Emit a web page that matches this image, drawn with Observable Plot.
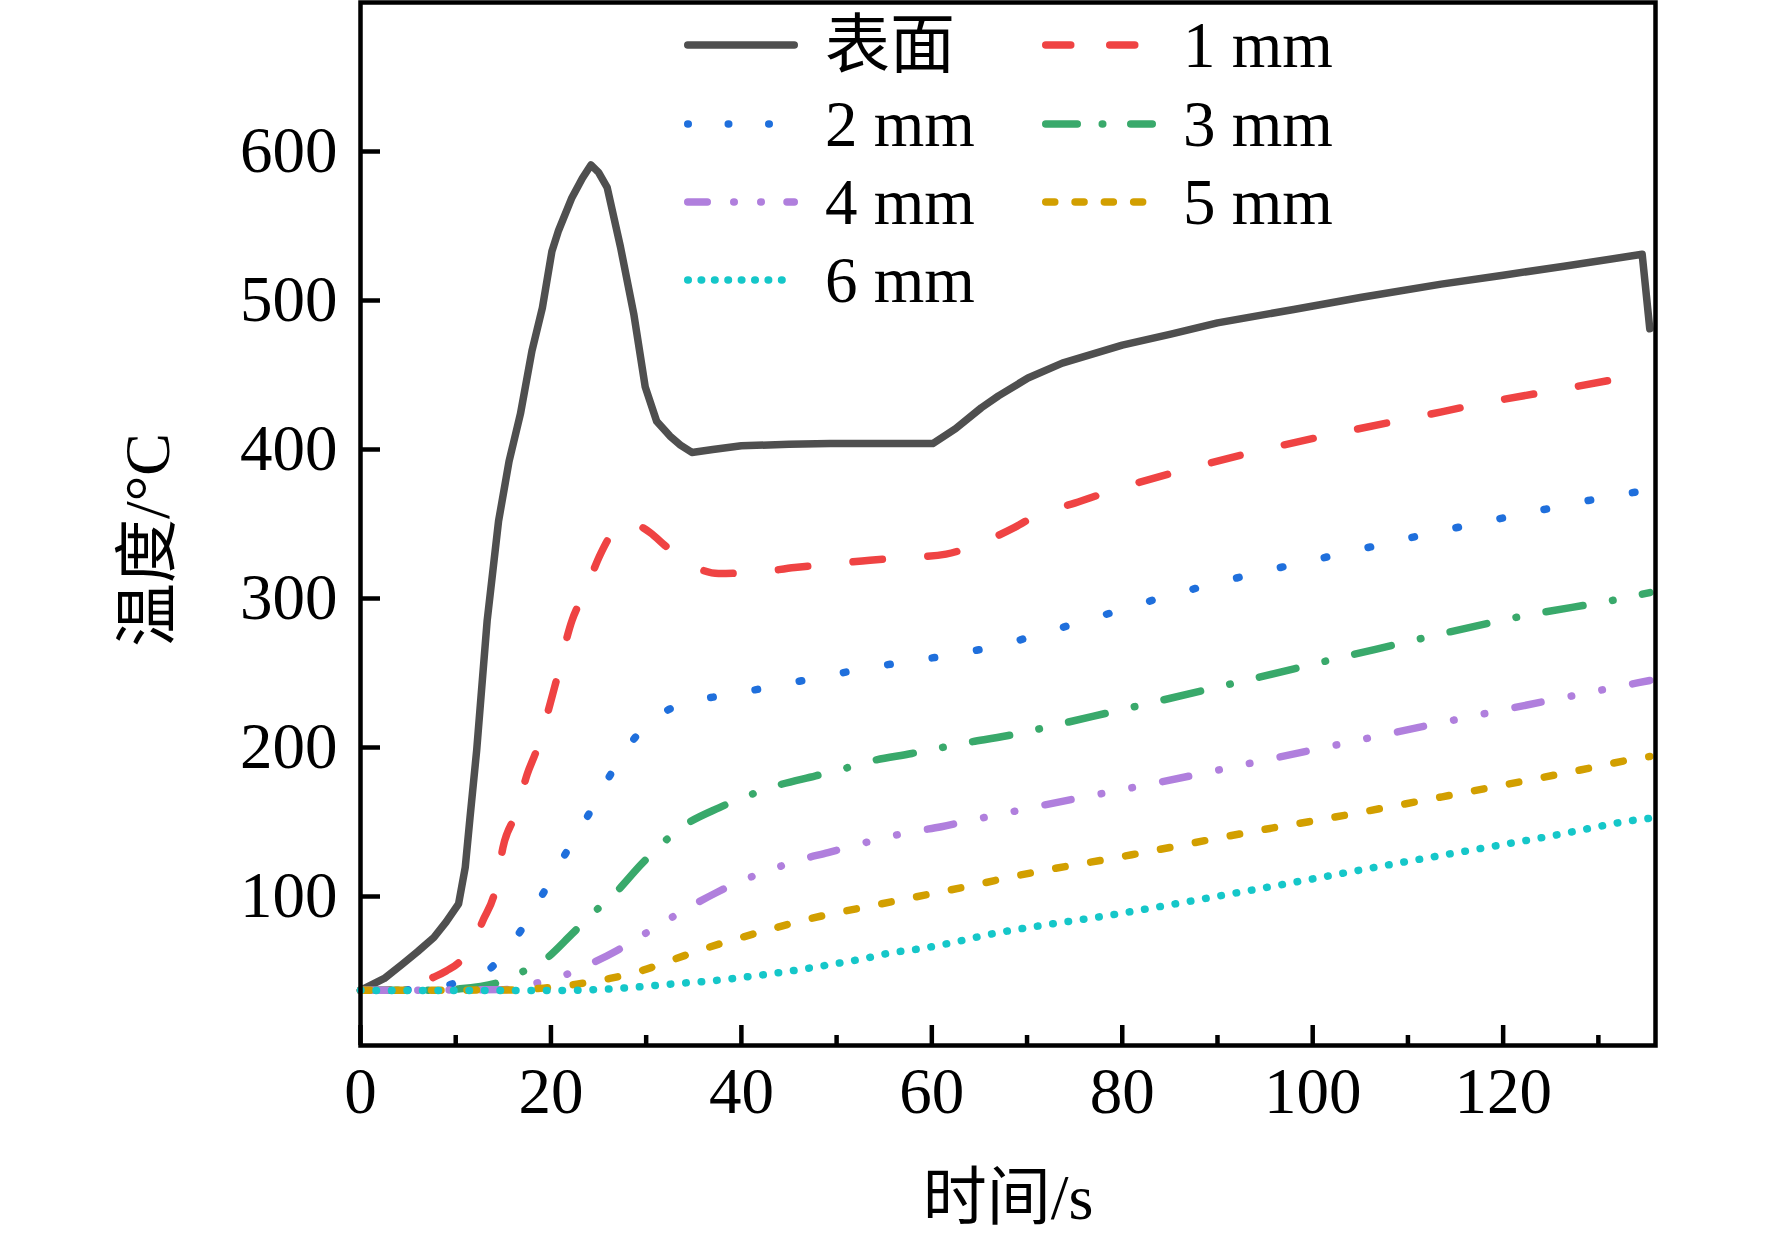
<!DOCTYPE html>
<html>
<head>
<meta charset="utf-8">
<script src="https://cdn.jsdelivr.net/npm/d3@7"></script>
<script src="https://cdn.jsdelivr.net/npm/@observablehq/plot@0.6"></script>
<style>
html, body { margin: 0; padding: 0; background: #fff; }
#chart { width: 1772px; height: 1239px; }
</style>
</head>
<body>
<div id="chart"></div>
<script>
// ---------- data (time in s, temperature in °C) ----------
const seriesNames = ["表面", "1 mm", "2 mm", "3 mm", "4 mm", "5 mm", "6 mm"];

const tSurface = [0, 2.5, 4.4, 6, 7.7, 9, 10.3, 11, 11.5, 12.2, 13.3, 14.5, 15.6, 16.8, 18, 19.1, 20.1, 20.8, 22.2, 23.3, 24.2, 25, 25.9, 27.3, 28.7, 29.9, 31.1, 32.5, 33.6, 34.8, 37, 40, 45, 49.3, 55, 60.1, 62.5, 65.2, 67, 70.1, 73.7, 80, 85.1, 90, 98, 105, 113.5, 120, 126.4, 134.6, 135.4];
const vSurface = [37, 45, 54.6, 63, 72.5, 83, 95, 119.5, 153, 198, 285, 352, 392, 424, 466, 495, 533, 547, 569, 582, 591, 586, 576, 536, 491, 442, 419, 409, 403, 398, 400, 402.5, 403.5, 404, 404, 404, 414, 428, 436, 448, 458, 470, 477.4, 485, 494, 502, 511, 517, 523, 531, 481];

const t1mm = [0, 4, 6, 7.25, 9, 10.5, 12, 12.85, 14.26, 14.96, 16.37, 17.5, 18.47, 20.3, 22.2, 23.6, 25.2, 26.9, 28, 29.2, 30.4, 31.9, 33.4, 35.5, 37.6, 41.4, 45.6, 49.3, 53.5, 57.3, 61.5, 64.8, 68.7, 71.2, 75, 79, 86.8, 94.7, 102.8, 110.7, 118.5, 126.4, 134, 135.4];
const v1mm = [37, 37.5, 40, 44.5, 50, 56.8, 72, 83.7, 107.2, 132.9, 156.4, 182, 197.8, 238.5, 285, 305, 329.8, 347.7, 351, 349, 344.3, 336, 327.5, 320, 316.8, 317.5, 320.8, 323, 325.7, 327.5, 329.8, 336.5, 347.7, 356.6, 364, 372.6, 386.8, 399.7, 411.2, 421.5, 431.8, 440.8, 449.8, 451.5];

const t2mm = [0, 6, 8, 9.96, 13.56, 16.7, 19.3, 21.6, 23.9, 26.3, 28.9, 33, 37.8, 42.5, 47.2, 52.1, 56.7, 61.4, 66.1, 74.8, 84.2, 93.5, 103.1, 112.4, 122, 131.5, 135.4];
const v2mm = [37, 37.5, 39, 41.9, 51.3, 75.8, 103.4, 129.5, 154.4, 182.3, 207.2, 227.5, 234.7, 239.9, 245.9, 251.9, 257, 261.5, 267.1, 282.6, 300.7, 316.1, 330.2, 343.8, 356.7, 368.8, 373];

const t3mm = [0, 8, 10.05, 14.5, 16.6, 19.2, 22.2, 24.3, 26.65, 29.5, 31.3, 33.7, 37.7, 40.6, 43.3, 47.8, 50.6, 53.4, 57.9, 60.5, 63.2, 67.9, 76.9, 91.5, 106.6, 121.7, 134, 135.4];
const v3mm = [37, 37, 37.8, 42.3, 48.3, 56.8, 74.8, 88.2, 101.6, 121.7, 133.2, 146.3, 159.7, 167.4, 173.6, 181, 185.5, 190.6, 196, 199.3, 202.7, 207.9, 220.9, 242.8, 265.9, 287.8, 302, 304];

const t4mm = [0, 15, 18, 21.5, 24.1, 26.9, 29.5, 32.1, 34.8, 37.4, 40, 43, 45.8, 49.1, 51.7, 54.7, 57.8, 61, 63.8, 66.9, 71.1, 83.3, 99.6, 114.8, 131.6, 135.4];
const v4mm = [37, 37.5, 41.2, 47.4, 54.6, 63.6, 73.6, 83.7, 93.8, 102.7, 110.5, 117.7, 124, 129.5, 134, 138.9, 143.4, 146.8, 150.8, 154.8, 160.5, 175.9, 197.8, 218.4, 240.2, 245];

const t5mm = [0, 16, 19.2, 22.7, 26.2, 29.7, 33, 36.2, 40, 43.5, 47, 50.5, 54.2, 58, 61.5, 65.2, 68.1, 81, 95.7, 99.6, 113.6, 128.1, 134.8, 135.4];
const v5mm = [37, 37.3, 38.5, 41.2, 45, 50.6, 58, 65.1, 72.5, 78.8, 84.8, 89.7, 94.4, 99.3, 103.8, 108.7, 112.8, 128, 145.9, 150.2, 166.9, 184.9, 193.4, 194];

const t6mm = [0, 19.4, 24.3, 27.6, 30.6, 33.9, 36.9, 40, 43.3, 46.5, 49.6, 52.6, 55.9, 58.9, 62.2, 65.2, 79.4, 93.6, 109.3, 125.1, 134.6, 135.4];
const v6mm = [37, 36.9, 37.4, 38.5, 40.1, 41.9, 43.4, 45.6, 48.3, 51.3, 54.6, 58, 62.4, 65.1, 69.1, 73.4, 88.2, 104.3, 122.8, 140.7, 151.9, 152.5];

const xTicks = [0, 20, 40, 60, 80, 100, 120];
const xMinorTicks = [10, 30, 50, 70, 90, 110, 130];
const yTicks = [100, 200, 300, 400, 500, 600];
const xLabel = "时间/s";
const yLabel = "温度/°C";

// ---------- styles (kept apart from the data) ----------
const seriesData = [
  [tSurface, vSurface], [t1mm, v1mm], [t2mm, v2mm], [t3mm, v3mm],
  [t4mm, v4mm], [t5mm, v5mm], [t6mm, v6mm]
];
const LW = 7.5;
const styles = [
  { color: "#4f4f4f", dash: null, legendDash: null, curve: "linear" },
  { color: "#ef4343", dash: "29.5,45.5", legendDash: "25,39", curve: "monotone-x" },
  { color: "#1f6fdc", dash: "2.5,42.5", legendDash: "0.5,40", curve: "monotone-x" },
  { color: "#39a96b", dash: "37.5,30,0.5,30", legendDash: "31.5,25,0.5,28", curve: "monotone-x" },
  { color: "#b07fdd", dash: "26.5,30.8,0.5,30.8,0.5,30.9", legendDash: "19.5,26.5,0.5,26.5,0.5,25.75", curve: "monotone-x" },
  { color: "#d29f00", dash: "9.5,26", legendDash: "9,20.3", curve: "monotone-x" },
  { color: "#15c7c9", dash: "0.5,15", legendDash: "0.5,12.9", curve: "monotone-x" }
];
const serif = "'Liberation Serif', 'Times New Roman', 'Noto Sans CJK SC', serif";

const lineMarks = seriesNames.map((name, k) => {
  const [ts, vs] = seriesData[k];
  const rows = ts.map((t, i) => ({ series: name, t, v: vs[i] }));
  const st = styles[k];
  const opts = {
    x: "t", y: "v", stroke: st.color, strokeWidth: LW,
    strokeLinecap: "round", strokeLinejoin: "round", curve: st.curve
  };
  if (st.dash) opts.strokeDasharray = st.dash;
  return Plot.line(rows, opts);
});

const noText = () => "";

const svg = Plot.plot({
  width: 1772,
  height: 1239,
  marginLeft: 360,
  marginRight: 117,
  marginTop: 2,
  marginBottom: 194,
  x: { domain: [0, 136], label: null },
  y: { domain: [0, 700], label: null },
  style: { fontFamily: serif, fontSize: "65px", background: "#fff", color: "#000", overflow: "visible" },
  marks: [
    ...lineMarks,
    Plot.frame({ stroke: "#000", strokeWidth: 4.5 }),
    Plot.axisX(xTicks, { tickSize: -20, strokeWidth: 4.5, stroke: "#000", tickFormat: noText, label: null }),
    Plot.axisX(xMinorTicks, { tickSize: -10, strokeWidth: 4.5, stroke: "#000", tickFormat: noText, label: null }),
    Plot.axisX(xTicks, { tickSize: 0, tickPadding: 21, fontSize: 65, fontFamily: serif, fill: "#000", label: null }),
    Plot.axisY(yTicks, { tickSize: -20, strokeWidth: 4.5, stroke: "#000", tickFormat: noText, label: null }),
    Plot.axisY(yTicks, { tickSize: 0, tickPadding: 23, fontSize: 65, fontFamily: serif, fill: "#000", label: null }),
    Plot.text([xLabel], { text: d => d, frameAnchor: "bottom", dy: 153, lineAnchor: "middle", fontSize: 64, fontFamily: serif, fill: "#000" }),
    Plot.text([yLabel], { text: d => d, frameAnchor: "left", dx: -212, dy: 16, rotate: -90, lineAnchor: "middle", textAnchor: "middle", fontSize: 64, fontFamily: serif, fill: "#000" })
  ]
});

// ---------- legend (inside the plot frame, two columns) ----------
const legendColX = [684, 1042];
const legendRowY = [45, 124, 202, 280];
const legendLineLen = 114;
const legendTextOffset = 141;

const g = d3.select(svg).append("g").attr("class", "legend");
seriesNames.forEach((name, i) => {
  const col = i % 2, row = Math.floor(i / 2);
  const x0 = legendColX[col], y0 = legendRowY[row];
  const st = styles[i];
  const ln = g.append("line")
    .attr("x1", x0 + LW / 2).attr("x2", x0 + legendLineLen - LW / 2)
    .attr("y1", y0).attr("y2", y0)
    .attr("stroke", st.color).attr("stroke-width", LW)
    .attr("stroke-linecap", "round");
  if (st.legendDash) ln.attr("stroke-dasharray", st.legendDash);
  g.append("text")
    .attr("x", x0 + legendTextOffset).attr("y", y0).attr("dy", "0.34em")
    .attr("text-anchor", "start")
    .attr("font-family", serif).attr("font-size", 65).attr("fill", "#000")
    .text(name);
});

document.getElementById("chart").appendChild(svg);
</script>
</body>
</html>
